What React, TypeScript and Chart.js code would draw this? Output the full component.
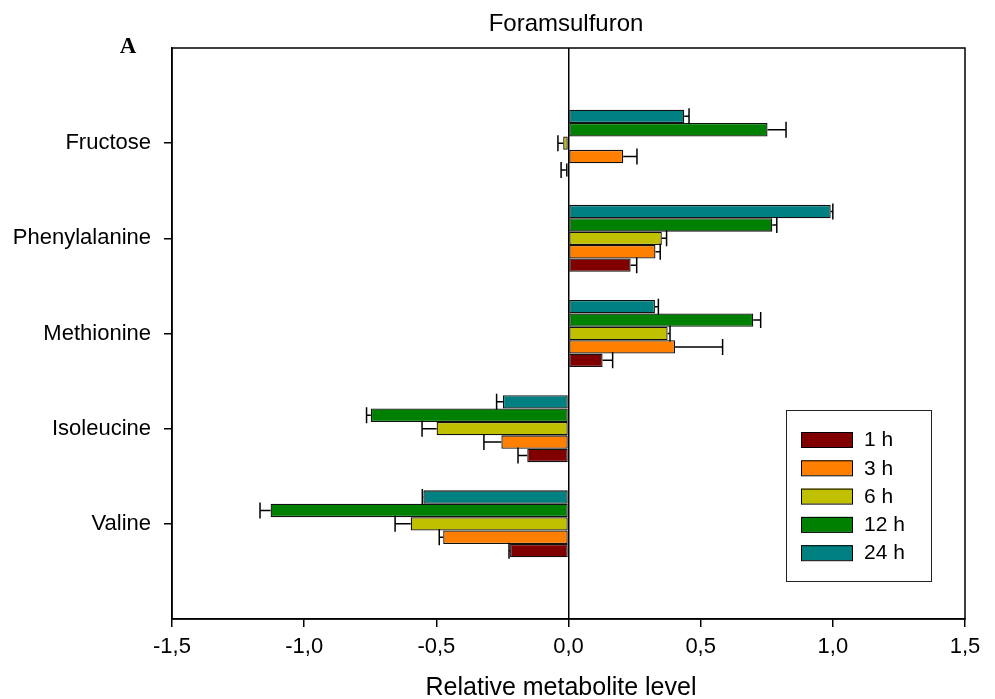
import React, { useEffect, useRef } from 'react';
import { Chart, registerables } from 'chart.js';

Chart.register(...registerables);

const categories = ['Fructose', 'Phenylalanine', 'Methionine', 'Isoleucine', 'Valine'];
const seriesLabels = ['1 h', '3 h', '6 h', '12 h', '24 h'];
const seriesColors = ['#800000', '#FF8000', '#C0C000', '#008000', '#008080'];

const values1h = [-0.01, 0.235, 0.129, -0.156, -0.221];
const values3h = [0.207, 0.329, 0.403, -0.254, -0.474];
const values6h = [-0.02, 0.353, 0.375, -0.499, -0.597];
const values12h = [0.753, 0.771, 0.699, -0.748, -1.127];
const values24h = [0.438, 0.992, 0.327, -0.248, -0.549];

const errors1h = [0.018, 0.023, 0.038, 0.035, 0.004];
const errors3h = [0.052, 0.018, 0.18, 0.066, 0.015];
const errors6h = [0.02, 0.018, 0.009, 0.055, 0.059];
const errors12h = [0.07, 0.017, 0.028, 0.016, 0.04];
const errors24h = [0.018, 0.008, 0.013, 0.024, 0.004];

const xTickValues = [-1.5, -1, -0.5, 0, 0.5, 1, 1.5];
const chartTitle = 'Foramsulfuron';
const xAxisTitle = 'Relative metabolite level';
const panelLabel = 'A';

const FONT = "'Liberation Sans', Arial, Helvetica, sans-serif";

const seriesValues = [values1h, values3h, values6h, values12h, values24h];
const seriesErrors = [errors1h, errors3h, errors6h, errors12h, errors24h];

export default function App() {
  const ref = useRef<HTMLCanvasElement>(null);

  useEffect(() => {
    const yLabels = ['', ...categories, ''];
    // top bar in each group is the last series (24 h)
    const order = [4, 3, 2, 1, 0];
    const datasets = order.map((s) => ({
      label: seriesLabels[s],
      data: [null, ...seriesValues[s], null] as (number | null)[],
      backgroundColor: seriesColors[s],
      borderColor: '#111111',
      borderWidth: 1.3,
      borderSkipped: false,
      categoryPercentage: 0.704,
      barPercentage: 1.0,
    }));

    const errorBars = {
      id: 'errorBars',
      afterDatasetsDraw(chart: any) {
        const ctx = chart.ctx;
        const xs = chart.scales.x;
        ctx.save();
        ctx.strokeStyle = '#000';
        ctx.lineWidth = 1.5;
        order.forEach((s, di) => {
          const meta = chart.getDatasetMeta(di);
          meta.data.forEach((bar: any, i: number) => {
            const idx = i - 1;
            if (idx < 0 || idx >= categories.length) return;
            const v = seriesValues[s][idx];
            const e = seriesErrors[s][idx];
            const sign = v < 0 ? -1 : 1;
            const end = xs.getPixelForValue(v + sign * e);
            const { x, y } = bar.getProps(['x', 'y'], true);
            ctx.beginPath();
            ctx.moveTo(x, y);
            ctx.lineTo(end, y);
            ctx.moveTo(end, y - 8);
            ctx.lineTo(end, y + 8);
            ctx.stroke();
          });
        });
        ctx.restore();
      },
    };

    const decorations = {
      id: 'decorations',
      afterDraw(chart: any) {
        const ctx = chart.ctx;
        const a = chart.chartArea;
        ctx.save();
        // frame
        ctx.strokeStyle = '#000';
        ctx.lineWidth = 1.5;
        ctx.strokeRect(a.left, a.top, a.right - a.left, a.bottom - a.top);

        // title
        ctx.fillStyle = '#000';
        ctx.font = `24px ${FONT}`;
        ctx.textAlign = 'center';
        ctx.textBaseline = 'alphabetic';
        ctx.fillText(chartTitle, 566, 31);

        // x axis title
        ctx.font = `25px ${FONT}`;
        ctx.fillText(xAxisTitle, 561, 695);

        // panel label
        ctx.font = "bold 23px 'Liberation Serif', 'Times New Roman', serif";
        ctx.fillText(panelLabel, 128, 53);

        // legend
        const bx = 786, by = 410, bw = 145, bh = 171;
        ctx.fillStyle = '#fff';
        ctx.fillRect(bx, by, bw, bh);
        ctx.strokeStyle = '#222';
        ctx.lineWidth = 1;
        ctx.strokeRect(bx + 0.5, by + 0.5, bw, bh);
        ctx.font = `21px ${FONT}`;
        ctx.textAlign = 'left';
        ctx.textBaseline = 'middle';
        seriesLabels.forEach((lab, i) => {
          const top = 432 + i * 28.3;
          ctx.fillStyle = seriesColors[i];
          ctx.fillRect(801, top, 51, 15);
          ctx.strokeStyle = '#000';
          ctx.lineWidth = 1;
          ctx.strokeRect(801.5, top + 0.5, 51, 15);
          ctx.fillStyle = '#000';
          ctx.fillText(lab, 864, top + 8.5);
        });
        ctx.restore();
      },
    };

    const chart = new Chart(ref.current as HTMLCanvasElement, {
      type: 'bar',
      data: { labels: yLabels, datasets: datasets as any },
      options: {
        indexAxis: 'y',
        animation: false,
        responsive: false,
        devicePixelRatio: 1,
        layout: { padding: { top: 48, right: 30, left: 0, bottom: 0 } },
        plugins: {
          legend: { display: false },
          title: { display: false },
          tooltip: { enabled: false },
        },
        scales: {
          x: {
            type: 'linear',
            min: -1.5,
            max: 1.5,
            afterBuildTicks: (scale: any) => {
              scale.ticks = xTickValues.map((v) => ({ value: v }));
            },
            afterFit: (scale: any) => {
              scale.height = 80;
            },
            ticks: {
              autoSkip: false,
              maxRotation: 0,
              padding: 7,
              color: '#000',
              font: { family: FONT, size: 22 },
              callback: (v: any) => Number(v).toFixed(1).replace('.', ','),
            },
            grid: {
              drawOnChartArea: true,
              drawTicks: true,
              tickLength: 8,
              lineWidth: 1.5,
              color: (c: any) => (c.tick && c.tick.value === 0 ? '#000' : 'rgba(0,0,0,0)'),
              tickColor: '#000',
            },
            border: { display: true, color: '#000', width: 1.5 },
          },
          y: {
            type: 'category',
            offset: false,
            afterBuildTicks: (scale: any) => {
              scale.ticks = scale.ticks.filter(
                (t: any) => t.value >= 1 && t.value <= categories.length
              );
            },
            afterFit: (scale: any) => {
              scale.width = 172;
            },
            ticks: {
              autoSkip: false,
              padding: 13,
              color: '#000',
              font: { family: FONT, size: 22 },
            },
            grid: {
              offset: false,
              drawOnChartArea: false,
              drawTicks: true,
              tickLength: 8,
              lineWidth: 1.5,
              tickColor: '#000',
            },
            border: { display: true, color: '#000', width: 1.5 },
          },
        },
      },
      plugins: [errorBars, decorations],
    });

    return () => chart.destroy();
  }, []);

  return (
    <div style={{ position: 'fixed', left: 0, top: 0, width: 995, height: 699, background: '#fff' }}>
      <canvas ref={ref} width={995} height={699} style={{ display: 'block' }} />
    </div>
  );
}
